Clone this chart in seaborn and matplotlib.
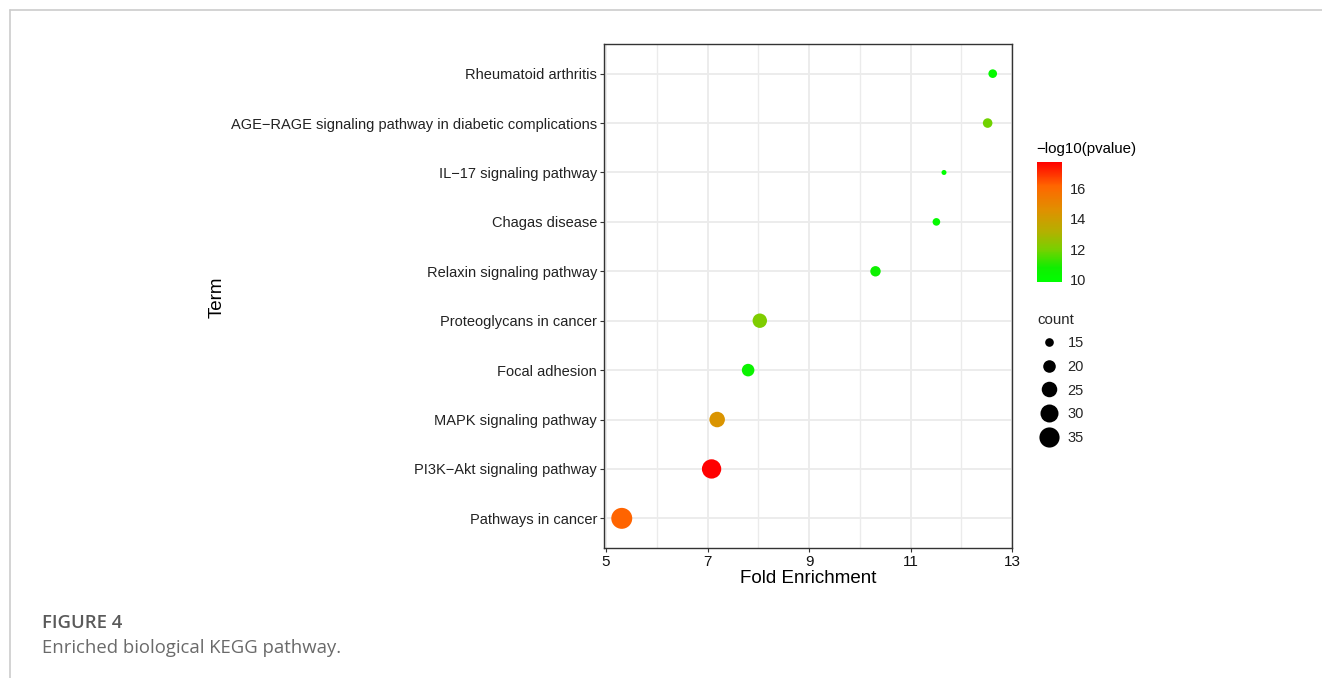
import numpy as np
import pandas as pd
import matplotlib
matplotlib.use('Agg')
import matplotlib.pyplot as plt
import seaborn as sns
from matplotlib.colors import LinearSegmentedColormap, Normalize
from matplotlib.lines import Line2D

# --- DATA ---
terms = ['Rheumatoid arthritis',
         'AGE\u2212RAGE signaling pathway in diabetic complications',
         'IL\u221217 signaling pathway',
         'Chagas disease',
         'Relaxin signaling pathway',
         'Proteoglycans in cancer',
         'Focal adhesion',
         'MAPK signaling pathway',
         'PI3K\u2212Akt signaling pathway',
         'Pathways in cancer']
fold_enrichment = [12.62, 12.52, 11.66, 11.51, 10.31, 8.03, 7.80, 7.19, 7.08, 5.31]
neg_log10_p = [10.1, 11.9, 9.82, 10.1, 10.6, 12.1, 10.5, 14.4, 17.78, 16.2]
counts = [15, 16, 12, 14, 17, 23, 20, 25, 33, 37]

legend_counts = [15, 20, 25, 30, 35]
x_ticks = [5, 7, 9, 11, 13]
cbar_ticks = [10, 12, 14, 16]

df = pd.DataFrame({'Term': terms, 'Fold Enrichment': fold_enrichment,
                   'pval': neg_log10_p, 'count': counts})

# green -> red gradient, colours picked off the reference colour bar
cmap = LinearSegmentedColormap.from_list('gr', [
    (0.00, '#00ff00'), (0.12, '#10ee00'), (0.27, '#78d000'), (0.42, '#b4b000'),
    (0.60, '#e09000'), (0.80, '#ff6600'), (1.00, '#ff0000')])
vmin, vmax = min(neg_log10_p), max(neg_log10_p)
norm = Normalize(vmin, vmax)

SIZES = (13, 228)
cmin, cmax = min(counts), max(counts)

def size_of(c):
    return SIZES[0] + (SIZES[1] - SIZES[0]) * (c - cmin) / (cmax - cmin)

# --- PLOT ---
sns.set_theme(style='white')
plt.rcParams['font.family'] = ['Liberation Sans', 'DejaVu Sans']

W, H = 1322, 678
fig = plt.figure(figsize=(W / 100, H / 100), dpi=100)
ax = fig.add_axes([604 / W, 1 - 548 / H, 408 / W, 504 / H])

sns.scatterplot(data=df, x='Fold Enrichment', y='Term', hue='pval', palette=cmap,
                hue_norm=norm, size='count', sizes=SIZES, size_norm=(cmin, cmax),
                linewidth=0, legend=False, ax=ax, zorder=3)

ax.set_xlim(4.96, 13.0)
ax.set_ylim(len(terms) - 1 + 0.6, -0.6)
ax.set_xticks(x_ticks)
ax.set_xticks([6, 8, 10, 12], minor=True)
ax.grid(True, which='major', color='#ebebeb', linewidth=1.3, zorder=0)
ax.grid(True, which='minor', axis='x', color='#ebebeb', linewidth=1.0, zorder=0)
ax.set_axisbelow(True)
for s in ax.spines.values():
    s.set_color('#333333')
    s.set_linewidth(1.0)
ax.tick_params(axis='both', which='major', length=3, width=0.8, color='#333333',
               bottom=True, left=True, pad=2)
ax.tick_params(axis='y', labelsize=10.5, labelcolor='#222222')
ax.tick_params(axis='x', labelsize=11, labelcolor='#111111')
ax.tick_params(which='minor', length=0)
ax.set_xlabel('Fold Enrichment', fontsize=13.5, color='black', labelpad=1)
ax.set_ylabel('')
fig.text(217 / W, 1 - 297 / H, 'Term', rotation=90, fontsize=13.5,
         ha='center', va='center', color='black')

# colour bar
cax = fig.add_axes([1037 / W, 1 - 282 / H, 25 / W, 120 / H])
sm = plt.cm.ScalarMappable(cmap=cmap, norm=norm)
cb = fig.colorbar(sm, cax=cax, ticks=cbar_ticks)
cb.outline.set_visible(False)
cax.tick_params(length=5, width=0.8, color='white', direction='in', labelsize=10.5,
                pad=6, labelcolor='#222222')
fig.text(1036 / W, 1 - 149 / H, '\u2212log10(pvalue)', fontsize=10.8, ha='left',
         va='center', color='black')

# count legend
handles = [Line2D([], [], linestyle='', marker='o', markersize=np.sqrt(size_of(c)),
                  markerfacecolor='black', markeredgewidth=0) for c in legend_counts]
leg = fig.legend(handles, [str(c) for c in legend_counts], title='count',
                 loc='upper left', bbox_to_anchor=(1026 / W, 1 - 301 / H),
                 frameon=False, fontsize=10.5, title_fontsize=10.8, labelspacing=0.66,
                 handlelength=1.6, handletextpad=0.45, borderpad=0.3)
leg._legend_box.align = 'left'

# page frame and caption
fig.add_artist(Line2D([10 / W, 1], [1 - 10 / H, 1 - 10 / H], color='#cccccc', lw=1.2))
fig.add_artist(Line2D([10 / W, 10 / W], [0, 1 - 10 / H], color='#cccccc', lw=1.2))
fig.text(42 / W, 1 - 623 / H, 'FIGURE 4', fontsize=13.3, fontweight='semibold',
         color='#5a5a5a', family='Open Sans', va='center')
fig.text(42 / W, 1 - 648 / H, 'Enriched biological KEGG pathway.', fontsize=13.3,
         color='#6a6a6a', family='Open Sans', va='center')

fig.savefig('out.png', dpi=100)
